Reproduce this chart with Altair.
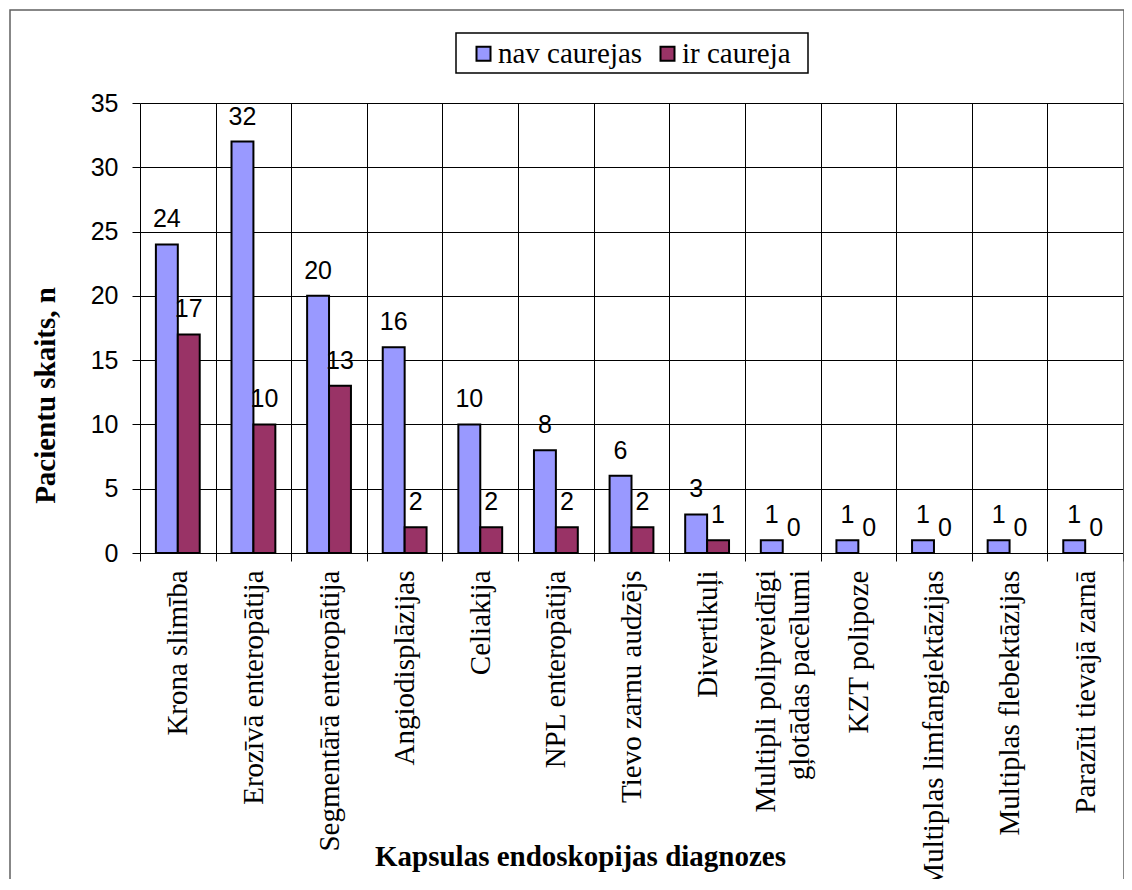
import altair as alt
import pandas as pd

categories = [
    "Krona slimība",
    "Erozīvā enteropātija",
    "Segmentārā enteropātija",
    "Angiodisplāzijas",
    "Celiakija",
    "NPL enteropātija",
    "Tievo zarnu audzējs",
    "Divertikuļi",
    "Multipli polipveidīgi\ngļotādas pacēlumi",
    "KZT polipoze",
    "Multiplas limfangiektāzijas",
    "Multiplas flebektāzijas",
    "Parazīti tievajā zarnā",
]
nav_caurejas = [24, 32, 20, 16, 10, 8, 6, 3, 1, 1, 1, 1, 1]
ir_caureja = [17, 10, 13, 2, 2, 2, 2, 1, 0, 0, 0, 0, 0]
series = ["nav caurejas", "ir caureja"]
colors = ["#9999FF", "#993366"]
y_ticks = [0, 5, 10, 15, 20, 25, 30, 35]

rows = []
for c, a, b in zip(categories, nav_caurejas, ir_caureja):
    rows.append({"cat": c, "series": series[0], "value": a})
    rows.append({"cat": c, "series": series[1], "value": b})
df = pd.DataFrame(rows)
cat_df = pd.DataFrame({"cat": categories})

SERIF = "Liberation Serif"
SANS = "Liberation Sans"

x_enc = alt.X(
    "cat:N",
    sort=categories,
    scale=alt.Scale(paddingInner=0, paddingOuter=0),
    axis=alt.Axis(
        title="Kapsulas endoskopijas diagnozes",
        titleFont=SERIF, titleFontSize=29, titleFontWeight="bold", titleColor="black",
        titleX=440, titleY=303, titleAlign="center", titleBaseline="middle",
        labelAngle=-90, labelFont=SERIF, labelFontSize=29, labelColor="black",
        labelPadding=9, labelOverlap=False, labelLimit=0,
        labelExpr="indexof(datum.label, '\\n') >= 0 ? '' : datum.label",
        tickBand="extent", tickSize=8, tickColor="black",
        grid=True, gridColor="black", gridWidth=1,
        domain=False,
    ),
)
xoff = alt.XOffset("series:N", sort=series,
                   scale=alt.Scale(paddingInner=0, paddingOuter=0.725))
y_enc = alt.Y(
    "value:Q",
    scale=alt.Scale(domain=[0, 35], nice=False),
    axis=alt.Axis(
        values=y_ticks, title="Pacientu skaits, n",
        titleFont=SERIF, titleFontSize=29, titleFontWeight="bold", titleColor="black",
        titleX=-95, titleY=292, titleAlign="center", titleBaseline="middle", titleAngle=-90,
        labelFont=SANS, labelFontSize=25, labelColor="black", labelPadding=14,
        tickSize=8, tickColor="black", grid=True, gridColor="black", gridWidth=1,
        domain=False,
    ),
)

one = pd.DataFrame({"a": [0]})
border = alt.Chart(one).mark_rect(fill="white", fillOpacity=0, stroke="#606060", strokeWidth=1.5).encode(
    x=alt.value(-130), x2=alt.value(984), y=alt.value(-93), y2=alt.value(800)
)
legend_box = alt.Chart(one).mark_rect(fill="white", stroke="black", strokeWidth=1.5).encode(
    x=alt.value(316), x2=alt.value(668), y=alt.value(-70), y2=alt.value(-30)
)

bars = alt.Chart(df).mark_bar(stroke="black", strokeWidth=2).encode(
    x=x_enc,
    xOffset=xoff,
    y=y_enc,
    strokeOpacity=alt.condition("datum.value > 0", alt.value(1), alt.value(0)),
    color=alt.Color(
        "series:N", sort=series,
        scale=alt.Scale(domain=series, range=colors),
        legend=alt.Legend(
            orient="none", legendX=329, legendY=-64, direction="horizontal", title=None,
            labelFont=SERIF, labelFontSize=29, labelColor="black",
            symbolType="square", symbolSize=196, symbolStrokeColor="black",
            symbolStrokeWidth=2, labelOffset=0, columnPadding=10, padding=0,
        ),
    ),
)
labels = alt.Chart(df).mark_text(font=SANS, fontSize=25, color="black",
                                 baseline="alphabetic", dy=-17).encode(
    x=alt.X("cat:N", sort=categories),
    xOffset=alt.XOffset("series:N", sort=series),
    y="value:Q",
    text="value:Q",
)
# two-line category label, centred on its band
multi_label = alt.Chart(cat_df).transform_filter(
    "indexof(datum.cat, '\\n') >= 0"
).mark_text(
    font=SERIF, fontSize=29, color="black", angle=270, align="right",
    baseline="middle", lineBreak="\n", lineHeight=34, dy=-17,
).encode(
    x=alt.X("cat:N", sort=categories),
    y=alt.value(467),
    text="cat:N",
)

chart = alt.layer(border, legend_box, bars, labels, multi_label).properties(
    width=983, height=450,
    autosize=alt.AutoSizeParams(type="none"),
    padding={"left": 132, "top": 95, "right": 1, "bottom": 326},
).configure_view(fill="#C0C0C0", stroke="black", strokeWidth=1).configure(
    background="white"
).configure_legend(
    labelFont=SERIF, labelFontSize=29, labelColor="black"
)

chart.save("out.html", embed_options={"renderer": "svg", "actions": False})
